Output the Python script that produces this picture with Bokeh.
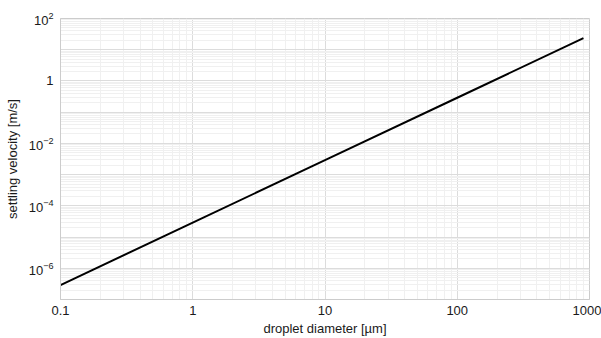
from bokeh.plotting import figure
from bokeh.models import FixedTicker, LogTickFormatter, CustomJSTickFormatter, Range1d
from bokeh.embed import file_html
from bokeh.resources import INLINE

# data
diameter_um = [0.1, 1, 10, 100, 900]
velocity_ms = [2.9e-7, 2.9e-5, 2.9e-3, 0.29, 23.5]

x_tick_values = [0.1, 1, 10, 100, 1000]
y_tick_values = [1e-6, 1e-4, 1e-2, 1, 1e2]
x_label = "droplet diameter [µm]"
y_label = "settling velocity [m/s]"

FONT = "Liberation Sans"

p = figure(width=601, height=338, x_axis_type="log", y_axis_type="log",
           x_range=Range1d(0.1, 1000), y_range=Range1d(1e-7, 1e2),
           output_backend="svg", toolbar_location=None,
           min_border_left=60, min_border_right=12, min_border_top=18,
           min_border_bottom=38)

p.line(diameter_um, velocity_ms, line_color="black", line_width=2)

def minors(lo_exp, hi_exp):
    out = []
    for e in range(lo_exp, hi_exp):
        for m in range(2, 10):
            out.append(m * 10.0 ** e)
    return out

p.xaxis.ticker = FixedTicker(ticks=x_tick_values, minor_ticks=minors(-1, 3))
p.xaxis.formatter = CustomJSTickFormatter(code="return tick < 1 ? tick.toFixed(1) : tick.toFixed(0)")
p.yaxis.ticker = FixedTicker(ticks=y_tick_values, minor_ticks=[])
p.yaxis.formatter = LogTickFormatter(min_exponent=1)

p.ygrid.ticker = FixedTicker(ticks=[10.0 ** e for e in range(-7, 3)], minor_ticks=minors(-7, 2))

for g in (p.xgrid, p.ygrid):
    g.grid_line_color = "#dcdcdc"
    g.grid_line_width = 1
    g.minor_grid_line_color = "#f0f0f0"
    g.minor_grid_line_width = 1

for ax in (p.xaxis, p.yaxis):
    ax.axis_line_color = "#cccccc"
    ax.major_tick_line_color = None
    ax.minor_tick_line_color = None
    ax.major_tick_in = 0
    ax.major_tick_out = 0
    ax.minor_tick_in = 0
    ax.minor_tick_out = 0
    ax.major_label_text_font = FONT
    ax.major_label_text_font_size = "13px"
    ax.major_label_text_color = "#1a1a1a"
    ax.axis_label_text_font = FONT
    ax.axis_label_text_font_size = "13px"
    ax.axis_label_text_font_style = "normal"
    ax.axis_label_text_color = "#1a1a1a"

p.xaxis.axis_label = x_label
p.yaxis.axis_label = y_label
p.xaxis.major_label_standoff = 6
p.xaxis.axis_label_standoff = 3
p.yaxis.major_label_standoff = 7
p.yaxis.axis_label_standoff = 6

p.outline_line_color = "#cccccc"
p.background_fill_color = "white"
p.border_fill_color = "white"

open("out.html", "w").write(file_html(p, INLINE))
